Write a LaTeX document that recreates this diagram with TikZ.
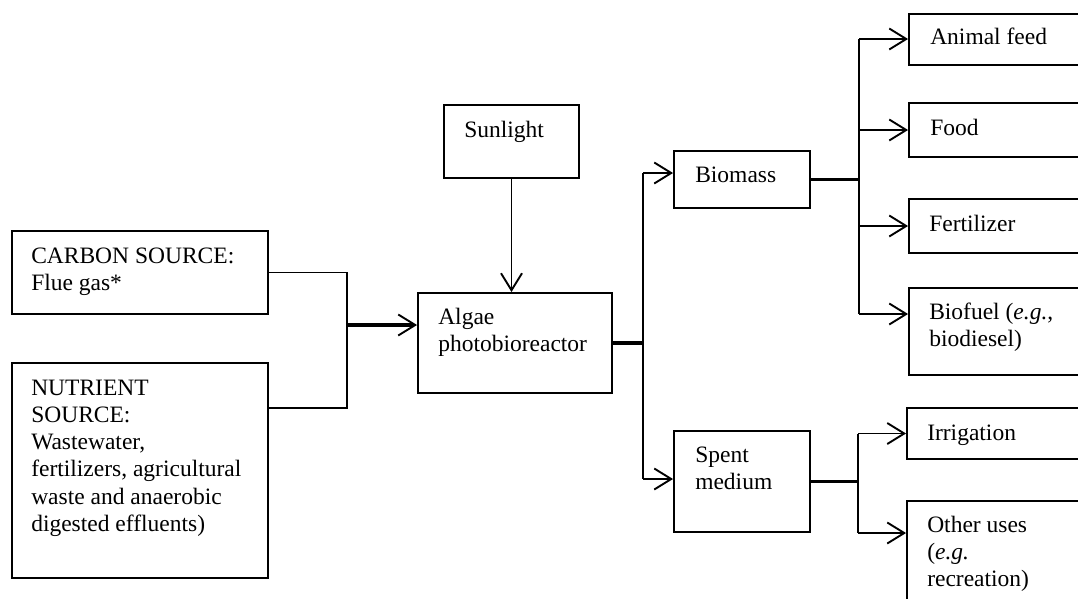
\documentclass[tikz,border=0pt]{standalone}
\usepackage{fontspec}
\setmainfont{Liberation Serif}
\usetikzlibrary{arrows.meta,calc}
\newcommand\mylines[1]{\vtop{\halign{##\hfil\cr#1\crcr}}}
\tikzset{
  box/.style={draw, line width=1.9pt, inner sep=0pt, rectangle},
  txt/.style={anchor=base west, inner sep=0pt, font=\fontsize{23.5pt}{27.3pt}\selectfont},
  conn/.style={line width=1.9pt},
  heavy/.style={line width=3.6pt},
  mid/.style={line width=2.8pt},
  arr/.style={-{Straight Barb[length=17pt,width=21pt,line width=1.9pt]}},
}
\begin{document}
\begin{tikzpicture}[x=1pt,y=-1pt]
\useasboundingbox (0,0) rectangle (1078,598);
\clip (0,0) rectangle (1078,598);
% boxes
\node[box, minimum width=256pt, minimum height=83pt] (carbon) at (140,272.5) {};
\node[box, minimum width=256pt, minimum height=215pt] (nutrient) at (140,470.5) {};
\node[box, minimum width=135pt, minimum height=73pt] (sun) at (511.5,141.5) {};
\node[box, minimum width=194pt, minimum height=100pt] (algae) at (515,343) {};
\node[box, minimum width=136pt, minimum height=57pt] (biomass) at (742,179.5) {};
\node[box, minimum width=136pt, minimum height=101pt] (spent) at (742,481.5) {};
\node[box, minimum width=200pt, minimum height=51pt] (feed) at (1009,39.5) {};
\node[box, minimum width=200pt, minimum height=54pt] (food) at (1009,130) {};
\node[box, minimum width=200pt, minimum height=54pt] (fert) at (1009,226) {};
\node[box, minimum width=200pt, minimum height=87pt] (biofuel) at (1009,331.5) {};
\node[box, minimum width=200pt, minimum height=51pt] (irr) at (1007,433.5) {};
\node[box, minimum width=200pt, minimum height=119pt] (other) at (1007,560.5) {};
% texts
\node[txt] (carbonT) at ($(carbon.north west)+(20,33)$) {\mylines{CARBON SOURCE:\cr Flue gas*}};
\node[txt] (nutrientT) at ($(nutrient.north west)+(20,33)$) {\mylines{NUTRIENT\cr SOURCE:\cr Wastewater,\cr fertilizers, agricultural\cr waste and anaerobic\cr digested effluents)}};
\node[txt] (sunT) at ($(sun.north west)+(21,33)$) {Sunlight};
\node[txt] (algaeT) at ($(algae.north west)+(21,32)$) {\mylines{Algae\cr photobioreactor}};
\node[txt] (biomassT) at ($(biomass.north west)+(22,32)$) {Biomass};
\node[txt] (spentT) at ($(spent.north west)+(22,32)$) {\mylines{Spent\cr medium}};
\node[txt] (feedT) at ($(feed.north west)+(22,31)$) {Animal feed};
\node[txt] (foodT) at ($(food.north west)+(22,33)$) {Food};
\node[txt] (fertT) at ($(fert.north west)+(21,33)$) {Fertilizer};
\node[txt] (biofuelT) at ($(biofuel.north west)+(21,32)$) {\mylines{Biofuel (\textit{e.g.},\cr biodiesel)}};
\node[txt] (irrT) at ($(irr.north west)+(21,33)$) {Irrigation};
\node[txt] (otherT) at ($(other.north west)+(21,32)$) {\mylines{Other uses\cr (\textit{e.g.}\cr recreation)}};
% junction coordinates
\coordinate (jL) at (347,325);
\coordinate (nb) at (347,408);
\coordinate (jM) at (643,346);
\coordinate (mT) at (643,173);
\coordinate (mB) at (643,479);
\coordinate (rT) at (859,39);
\coordinate (rB) at (859,314);
\coordinate (sT) at (858,433.5);
\coordinate (sB) at (858,533);
% left connectors
\draw[conn] (carbon.east) -| (jL);
\draw[conn] (nutrient.east |- nb) -- (nb) -- (jL);
\draw[heavy, arr] (jL) -- (jL -| algae.west);
\draw[conn, arr] (sun.south) -- (sun.south |- algae.north);
% middle
\draw[heavy] (algae.east) -- (algae.east -| jM);
\draw[conn] (mT) -- (mB);
\draw[conn, arr] (mT) -- (mT -| biomass.west);
\draw[conn, arr] (mB) -- (mB -| spent.west);
% biomass outputs
\draw[mid] (biomass.east) -- (biomass.east -| rT);
\draw[conn] (rT) -- (rB);
\draw[conn, arr] (rT) -- (rT -| feed.west);
\draw[conn, arr] (rT |- food.west) -- (food.west);
\draw[conn, arr] (rT |- fert.west) -- (fert.west);
\draw[conn, arr] (rB) -- (rB -| biofuel.west);
% spent outputs
\draw[mid] (spent.east) -- (spent.east -| sT);
\draw[conn] (sT) -- (sB);
\draw[conn, arr] (sT) -- (sT -| irr.west);
\draw[conn, arr] (sB) -- (sB -| other.west);
\end{tikzpicture}
\end{document}
